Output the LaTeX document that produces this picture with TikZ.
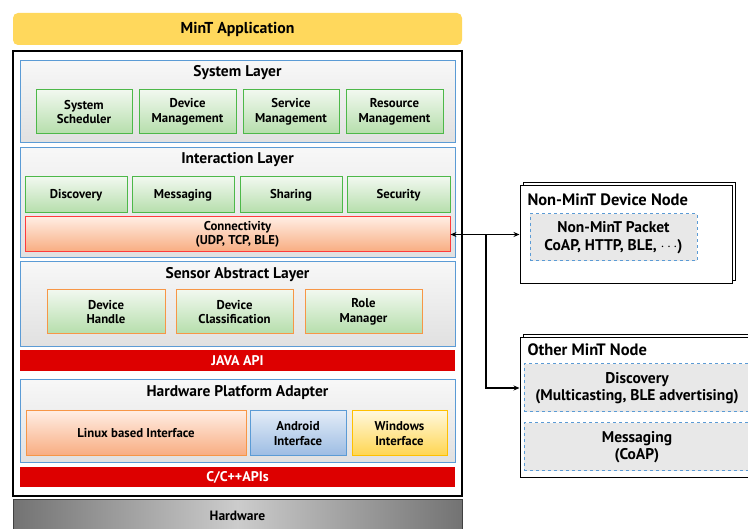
\documentclass[tikz,border=0pt]{standalone}
\usepackage{fontspec}
\setmainfont{PT Sans}
\usetikzlibrary{arrows.meta,shadows}
\definecolor{mintyel}{HTML}{FFD85C}
\definecolor{laybd}{HTML}{5B9BD5}
\definecolor{grnbd}{HTML}{4DB849}
\definecolor{grntop}{HTML}{F1F8EF}
\definecolor{grnbot}{HTML}{B5DEAB}
\definecolor{apired}{HTML}{DD0000}
\definecolor{conbd}{HTML}{FF3B3B}
\definecolor{orgbd}{HTML}{F79646}
\definecolor{orgtop}{HTML}{FFEDE3}
\definecolor{orgbot}{HTML}{F8AC80}
\definecolor{blutop}{HTML}{E3ECF7}
\definecolor{blubot}{HTML}{9CBCE3}
\definecolor{yeltop}{HTML}{FFF8DC}
\definecolor{yelbot}{HTML}{FFD54F}
\definecolor{yelbd}{HTML}{FFC000}

\begin{document}
\begin{tikzpicture}
[x=1pt, y=-1pt, font=\bfseries,
 lay/.style={draw=laybd, line width=1pt, top color=gray!6, bottom color=gray!24, inner sep=0pt},
 ttl/.style={font=\bfseries\fontsize{15.5}{17}\selectfont},
 grn/.style={draw=grnbd, line width=1pt, top color=grntop, bottom color=grnbot, inner sep=0pt, align=center, font=\bfseries\fontsize{12.8}{14.5}\selectfont},
 sab/.style={grn, draw=orgbd},
 api/.style={fill=apired, text=white, inner sep=0pt, minimum width=435pt, font=\bfseries\fontsize{14}{16}\selectfont},
 dsh/.style={draw=laybd, dashed, line width=1pt, fill=gray!18, inner sep=0pt, align=center, font=\bfseries\fontsize{15.5}{17.5}\selectfont},
 ext/.style={draw=black, line width=1pt, fill=white, inner sep=0pt, copy shadow={shadow xshift=3pt, shadow yshift=3pt}},
 ->/.style={line width=1.2pt, arrows={-Stealth[length=6pt, width=5pt]}},
 <->/.style={line width=1.2pt, arrows={Stealth[length=6pt, width=5pt]-Stealth[length=6pt, width=5pt]}}]
\clip (0,0) rectangle (748,529);
\fill[white] (0,0) rectangle (748,529);
% application on top
\node[fill=mintyel, rounded corners=5pt, minimum width=449pt, minimum height=32pt, inner sep=0pt, font=\bfseries\fontsize{15.8}{17}\selectfont] (app) at (237.5,29) {MinT Application};
\node[draw=black, line width=1.2pt, fill=white, minimum width=449pt, minimum height=445pt, inner sep=0pt] (mint) at (237.5,273.5) {};
% system layer
\node[lay, minimum width=435pt, minimum height=82pt] (sys) at (237.5,102) {};
\node[ttl] (systtl) at (237.5,73) {System Layer};
\node[grn, minimum width=96pt, minimum height=44pt] (sched) at (84,112) {System\\Scheduler};
\node[grn, minimum width=97pt, minimum height=44pt] (devmgmt) at (187.5,112) {Device\\Management};
\node[grn, minimum width=96pt, minimum height=44pt] (svcmgmt) at (291,112) {Service\\Management};
\node[grn, minimum width=97pt, minimum height=44pt] (resmgmt) at (394.5,112) {Resource\\Management};
% interaction layer
\node[lay, minimum width=435pt, minimum height=110pt] (inter) at (237.5,203) {};
\node[ttl] (intttl) at (237.5,160) {Interaction Layer};
\node[grn, minimum width=102pt, minimum height=36pt] (disc) at (76,195) {Discovery};
\node[grn, minimum width=102pt, minimum height=36pt] (msg) at (183,195) {Messaging};
\node[grn, minimum width=102pt, minimum height=36pt] (share) at (291,195) {Sharing};
\node[grn, minimum width=103pt, minimum height=36pt] (secu) at (398.5,195) {Security};
\node[grn, draw=conbd, top color=orgtop, bottom color=orgbot, minimum width=425pt, minimum height=35pt] (conn) at (237.5,234.5) {Connectivity\\(UDP, TCP, BLE)};
% sensor abstract layer
\node[lay, minimum width=435pt, minimum height=85pt] (sens) at (237.5,304.5) {};
\node[ttl] (senttl) at (237.5,275) {Sensor Abstract Layer};
\node[sab, minimum width=118pt, minimum height=44pt] (handle) at (106,312) {Device\\Handle};
\node[sab, minimum width=117pt, minimum height=44pt] (classif) at (234.5,312) {Device\\Classification};
\node[sab, minimum width=117pt, minimum height=44pt] (role) at (363.5,312) {Role\\Manager};
\node[api, minimum height=21pt] (java) at (237.5,360.5) {JAVA API};
% hardware platform adapter
\node[lay, minimum width=435pt, minimum height=83pt] (hpa) at (237.5,421.5) {};
\node[ttl] (hpattl) at (237.5,393) {Hardware Platform Adapter};
\node[grn, draw=orgbd, top color=orgtop, bottom color=orgbot, minimum width=220pt, minimum height=45pt] (linux) at (136,433.5) {Linux based Interface};
\node[grn, draw=laybd, top color=blutop, bottom color=blubot, minimum width=96pt, minimum height=45pt] (andr) at (298,433.5) {Android\\Interface};
\node[grn, draw=yelbd, top color=yeltop, bottom color=yelbot, minimum width=95pt, minimum height=45pt] (win) at (399.5,433.5) {Windows\\Interface};
\node[api, minimum height=20pt] (capi) at (237.5,477) {C/C++APIs};
% hardware
\node[draw=black!75, line width=1pt, left color=black!55, right color=black!55, middle color=black!20, minimum width=449pt, minimum height=32pt, inner sep=0pt, font=\bfseries\fontsize{13.5}{15}\selectfont] (hw) at (237.5,516) {Hardware};
% outside nodes
\node[ext, minimum width=212pt, minimum height=98pt] (nonmint) at (626,235) {};
\node[anchor=west, font=\bfseries\fontsize{16.5}{18}\selectfont] (nmttl) at (524,200) {Non-MinT Device Node};
\node[dsh, minimum width=167pt, minimum height=47pt] (nmpkt) at (613.5,237.5) {Non-MinT Packet\\CoAP, HTTP, BLE, $\cdots$)};
\node[ext, minimum width=234pt, minimum height=140pt] (other) at (637,408) {};
\node[anchor=west, font=\bfseries\fontsize{16.5}{18}\selectfont] (otttl) at (524,350) {Other MinT Node};
\node[dsh, minimum width=226pt, minimum height=48pt] (otdisc) at (637,388) {Discovery\\(Multicasting, BLE advertising)};
\node[dsh, minimum width=226pt, minimum height=48pt] (otmsg) at (637,447) {Messaging\\(CoAP)};
% links
\coordinate (split) at (486,235);
\draw[<->] (conn.east) -- (nonmint.west |- conn.east);
\draw[->] (split) |- (other.west |- otdisc.west);
\end{tikzpicture}
\end{document}
